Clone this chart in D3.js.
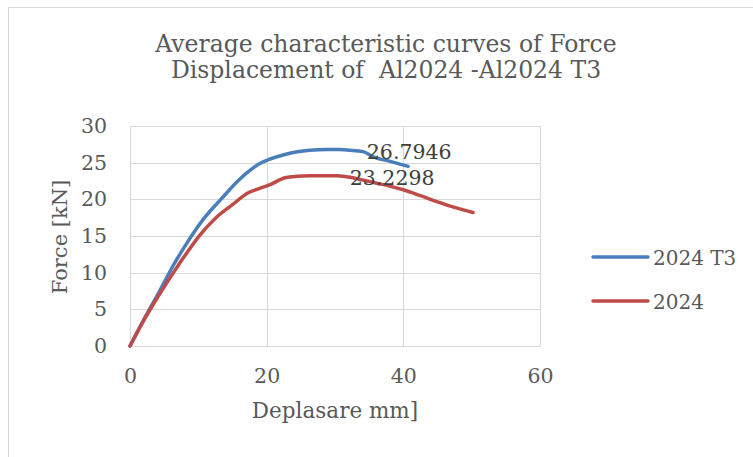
<!DOCTYPE html>
<html>
<head>
<meta charset="utf-8">
<script src="https://cdn.jsdelivr.net/npm/d3@7"></script>
<style>
  html, body { margin: 0; padding: 0; background: #fff; }
  svg { display: block; }
  svg text { font-family: "DejaVu Serif", "Liberation Serif", serif !important; fill: #595959; white-space: pre; }
</style>
</head>
<body>
<svg id="chart" width="753" height="457"></svg>
<script>
// Average force–displacement curves
const titleLines = ["Average characteristic curves of Force", "Displacement of  Al2024 -Al2024 T3"];
const xTicks = [0, 20, 40, 60];
const yTicks = [0, 5, 10, 15, 20, 25, 30];
const seriesNames = ["2024 T3", "2024"];
const seriesColors = ["#4a7ebb", "#be4b48"];

// 2024 T3
const t3X = [0, 2.2, 4.4, 6.1, 8.3, 11.0, 13.4, 15.9, 17.5, 19.0, 20.5, 22.4, 24.5, 26.3, 28.8, 30.5, 32.2, 34.1, 35.6, 38.2, 40.7];
const t3Y = [0, 3.9, 7.6, 10.6, 14.0, 17.6, 20.1, 22.6, 23.9, 24.9, 25.5, 26.05, 26.5, 26.7, 26.7946, 26.78, 26.7, 26.5, 25.8, 25.15, 24.5];
// 2024
const alX = [0, 2.2, 4.4, 7.1, 10.2, 12.7, 14.9, 17.3, 19.0, 20.5, 22.7, 24.5, 26.3, 28.5, 30.3, 32.2, 34.2, 36.1, 38.0, 40.0, 42.5, 44.9, 47.5, 50.2];
const alY = [0, 3.8, 7.2, 11.05, 15.1, 17.6, 19.2, 20.9, 21.5, 22.0, 22.95, 23.15, 23.22, 23.2298, 23.2, 23.0, 22.6, 22.2, 21.8, 21.3, 20.5, 19.7, 18.9, 18.2];

const series = [
  { name: seriesNames[0], color: seriesColors[0], pts: t3X.map((x, i) => [x, t3Y[i]]), labelDx: 40 },
  { name: seriesNames[1], color: seriesColors[1], pts: alX.map((x, i) => [x, alY[i]]), labelDx: 25 }
];

const svg = d3.select("#chart");
const plot = { left: 130, right: 540, top: 126, bottom: 346 };

const x = d3.scaleLinear().domain([0, 60]).range([plot.left, plot.right]);
const y = d3.scaleLinear().domain([0, 30]).range([plot.bottom, plot.top]);

// outer chart frame
svg.append("rect")
  .attr("x", 8.5).attr("y", 7.5).attr("width", 800).attr("height", 500)
  .attr("fill", "#fff").attr("stroke", "#d9d9d9").attr("stroke-width", 1);

// title
svg.append("g").selectAll("text").data(titleLines).join("text")
  .attr("text-anchor", "middle").attr("font-size", 23.5)
  .attr("x", 386).attr("y", (d, i) => 52 + i * 25.5)
  .text(d => d);

// gridlines
const grid = svg.append("g").attr("stroke", "#d9d9d9").attr("stroke-width", 1.2).attr("fill", "none");
grid.selectAll(".h").data(yTicks).join("line")
  .attr("x1", plot.left).attr("x2", plot.right)
  .attr("y1", d => Math.round(y(d)) + 0.5).attr("y2", d => Math.round(y(d)) + 0.5);
grid.selectAll(".v").data(xTicks).join("line")
  .attr("y1", plot.top).attr("y2", plot.bottom)
  .attr("x1", d => Math.round(x(d)) + 0.5).attr("x2", d => Math.round(x(d)) + 0.5);

// axes (labels only, Excel style)
const xAxis = svg.append("g")
  .attr("transform", `translate(0,${plot.bottom})`)
  .call(d3.axisBottom(x).tickValues(xTicks).tickSize(0).tickPadding(22));
xAxis.select(".domain").remove();
xAxis.selectAll("text").attr("font-size", 20.5).attr("fill", "#595959");

const yAxis = svg.append("g")
  .attr("transform", `translate(${plot.left},0)`)
  .call(d3.axisLeft(y).tickValues(yTicks).tickSize(0).tickPadding(23));
yAxis.select(".domain").remove();
yAxis.selectAll("text").attr("font-size", 20.5).attr("fill", "#595959");

// axis titles
svg.append("text")
  .attr("x", 335).attr("y", 418).attr("text-anchor", "middle").attr("font-size", 21.5)
  .text("Deplasare mm]");
svg.append("text")
  .attr("transform", "translate(67,237) rotate(-90)").attr("text-anchor", "middle").attr("font-size", 21)
  .text("Force [kN]");

// curves
const line = d3.line().x(d => x(d[0])).y(d => y(d[1])).curve(d3.curveMonotoneX);
svg.append("g").selectAll("path").data(series).join("path")
  .attr("d", d => line(d.pts))
  .attr("fill", "none")
  .attr("stroke", d => d.color)
  .attr("stroke-width", 3.5)
  .attr("stroke-linecap", "round")
  .attr("stroke-linejoin", "round");

// peak value labels
svg.append("g").selectAll("text").data(series).join("text")
  .each(function (d) {
    const peak = d.pts.reduce((a, b) => (b[1] > a[1] ? b : a));
    d3.select(this)
      .attr("x", x(peak[0]) + d.labelDx)
      .attr("y", y(peak[1]) + 9)
      .text(peak[1]);
  })
  .attr("font-size", 20.5)
  .style("fill", "#404040");

// legend
const legend = svg.append("g").selectAll("g").data(series).join("g")
  .attr("transform", (d, i) => `translate(593,${257 + i * 44})`);
legend.append("line")
  .attr("x1", 0).attr("x2", 55)
  .attr("stroke", d => d.color).attr("stroke-width", 3.5).attr("stroke-linecap", "round");
legend.append("text")
  .attr("x", 60).attr("y", 7.5).attr("font-size", 20)
  .text(d => d.name);
</script>
</body>
</html>
